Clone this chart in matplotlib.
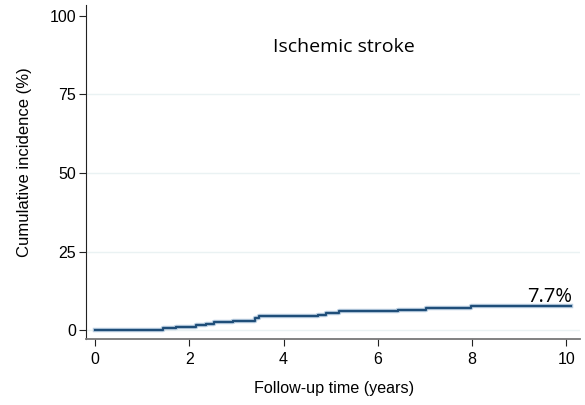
import matplotlib
matplotlib.use("Agg")
import matplotlib.pyplot as plt

# Data
times = [0, 1.43, 1.71, 2.15, 2.35, 2.53, 2.93, 3.40, 3.48, 4.73, 4.89, 5.18, 6.43, 7.03, 7.97, 10.10]
values = [0, 0.5, 1.0, 1.5, 1.9, 2.4, 2.8, 3.8, 4.4, 4.8, 5.4, 5.9, 6.3, 6.9, 7.6, 7.7]
final_label = "7.7%"
title = "Ischemic stroke"
xticks = [0, 2, 4, 6, 8, 10]
yticks = [0, 25, 50, 75, 100]

fig = plt.figure(figsize=(5.85, 4.05), dpi=100)
W, H = 585, 405
left, right, top, bottom = 85.7, 580, 5, 339.3
ax = fig.add_axes([left / W, 1 - bottom / H, (right - left) / W, (bottom - top) / H])

ax.step(times, values, where="post", color="#b9cde0", lw=3.2, zorder=2)
ax.step(times, values, where="post", color="#1f4e79", lw=1.6, zorder=3)

ax.set_xlim(-0.2, 10.29)
ax.set_ylim(-2.96, 103.5)
ax.set_xticks(xticks)
ax.set_yticks(yticks)
for y in yticks[:-1]:
    ax.axhline(y, color="#eaf2f3", lw=1, zorder=1)

for s in ["top", "right"]:
    ax.spines[s].set_visible(False)
ax.spines["left"].set_color("#222222")
ax.spines["bottom"].set_color("#777777")
ax.spines["bottom"].set_linewidth(1.3)
ax.tick_params(axis="both", length=5, width=0.8, labelsize=11.5, colors="#222222",
               labelcolor="black", pad=2)
ax.tick_params(axis="x", pad=4)
for lab in ax.get_xticklabels() + ax.get_yticklabels():
    lab.set_family("Liberation Sans")

ax.set_xlabel("Follow-up time (years)", fontsize=11.6, family="Liberation Sans", va="center")
ax.set_ylabel("Cumulative incidence (%)", fontsize=12, family="Liberation Sans", va="center")
ax.xaxis.set_label_coords(0.503, -0.146)
ax.yaxis.set_label_coords(-0.123, 0.530)

ax.text(5.27, 90.0, title, fontsize=14, family="Open Sans", ha="center", va="center")
ax.text(times[-1] + 0.02, values[-1] - 0.4, final_label, fontsize=14.5, family="Open Sans",
        ha="right", va="bottom")

fig.savefig("out.png", dpi=100)
